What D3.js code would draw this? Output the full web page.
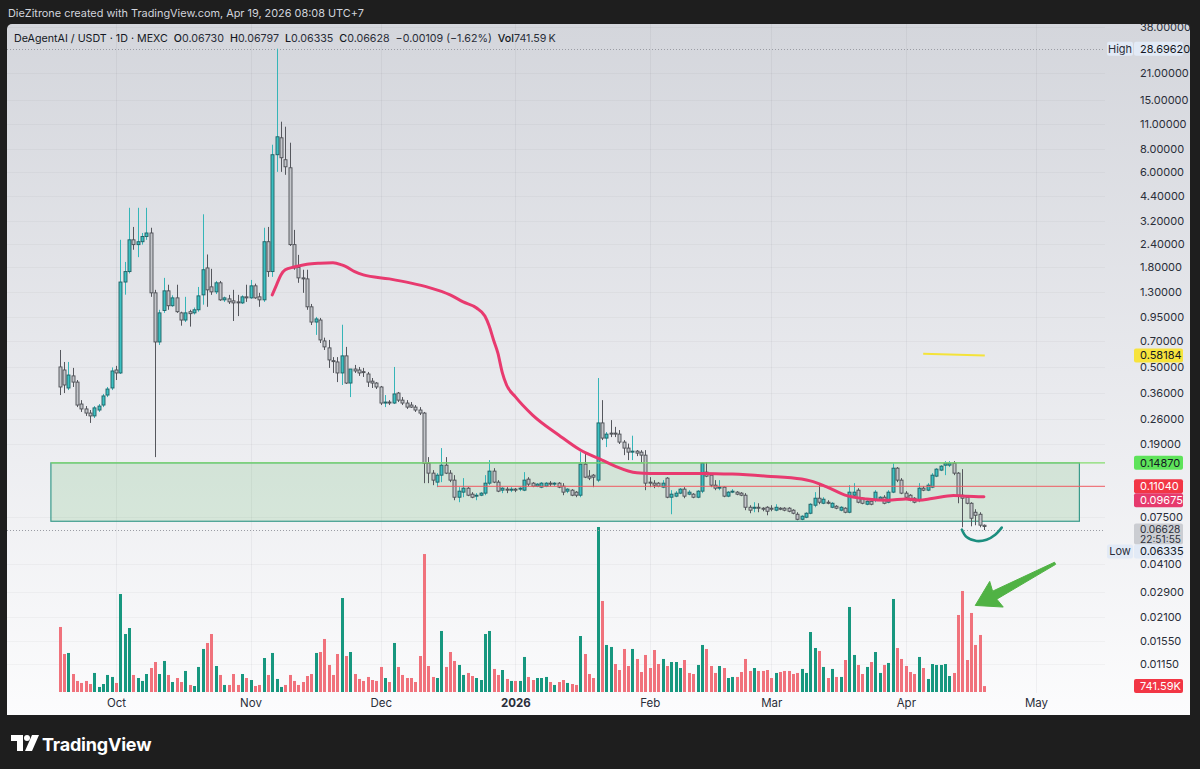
<!DOCTYPE html>
<html><head><meta charset="utf-8">
<script src="https://cdn.jsdelivr.net/npm/d3@7"></script>
<style>
html,body{margin:0;padding:0;background:#1e1e1e;}
svg{display:block;font-family:Inter,Roboto,"Noto Sans",sans-serif;}
</style></head><body>
<svg id="chart" width="1200" height="769"></svg>
<script>
// ---------------- DATA ----------------
const startDay = "2025-09-18"; // first daily candle
const open = [0.503,0.484,0.385,0.449,0.415,0.314,0.295,0.28,0.27,0.291,
0.31,0.352,0.385,0.484,0.466,1.48,1.69,2.53,2.38,2.47,
2.64,2.76,1.29,0.691,1.03,1.323,1.095,1.21,1.0,0.913,
1.015,1.0,1.04,1.257,1.77,1.392,1.306,1.465,1.18,1.195,
1.165,1.15,1.135,1.226,1.21,1.41,1.226,1.18,2.47,1.69,
7.46,9.25,7.0,6.32,2.38,1.78,1.56,1.54,1.08,0.89,
0.913,0.7,0.641,0.545,0.536,0.466,0.579,0.41,0.49,0.484,
0.474,0.46,0.42,0.41,0.39,0.318,0.322,0.318,0.361,0.33,
0.318,0.31,0.302,0.291,0.28,0.148,0.1305,0.1164,0.1272,0.1444,
0.1305,0.1194,0.0961,0.1025,0.1078,0.0999,0.0974,0.0986,0.1012,0.1149,
0.1339,0.1164,0.1051,0.1065,0.1051,0.1065,0.1065,0.1051,0.1209,0.1149,
0.1106,0.1092,0.1106,0.1149,0.1135,0.1149,0.1106,0.1038,0.1051,0.1025,
0.0986,0.1463,0.1256,0.1272,0.1194,0.247,0.2037,0.217,0.217,0.2143,
0.1936,0.1794,0.1704,0.1726,0.1704,0.164,0.1164,0.1149,0.1149,0.1092,
0.1225,0.0961,0.0974,0.1012,0.1065,0.0999,0.0999,0.0961,0.1038,0.1322,
0.1272,0.112,0.1078,0.1092,0.0974,0.1025,0.1025,0.1012,0.0986,0.0846,
0.0836,0.0846,0.0836,0.0846,0.0836,0.0815,0.0836,0.0836,0.0836,0.0815,
0.0774,0.0726,0.0745,0.0784,0.0868,0.0949,0.089,0.0902,0.0846,0.0857,
0.0815,0.0836,0.0794,0.0986,0.1051,0.0949,0.0879,0.0913,0.0925,0.0937,
0.0961,0.0902,0.1025,0.139,0.1194,0.1012,0.0986,0.0949,0.0925,0.1078,
0.1051,0.1092,0.1256,0.1356,0.1444,0.1444,0.148,0.1305,0.0986,0.0961,
0.089,0.0794,0.0774,0.0673];
const high = [0.624,0.536,0.536,0.497,0.426,0.33,0.306,0.291,0.306,0.314,
0.357,0.39,0.5,0.51,2.53,1.91,3.8,2.98,3.8,2.76,
3.8,2.95,1.34,1.04,1.56,1.43,1.25,1.43,1.015,1.226,
1.04,1.07,1.39,3.5,2.1,1.75,1.5,1.5,1.23,1.257,
1.34,1.257,1.25,1.43,1.52,1.45,1.29,2.95,2.98,8.47,
28.6962,11.35,10.65,8.69,2.87,2.09,1.73,1.73,1.12,0.95,
0.938,0.73,0.709,0.57,0.57,0.86,0.649,0.49,0.516,0.503,
0.497,0.472,0.437,0.415,0.395,0.352,0.33,0.503,0.366,0.343,
0.33,0.322,0.31,0.302,0.284,0.16,0.1356,0.1305,0.1794,0.16,
0.1356,0.1272,0.1092,0.1225,0.1092,0.1025,0.1012,0.1025,0.1272,0.154,
0.139,0.1194,0.1092,0.1092,0.1092,0.108,0.1092,0.1322,0.124,0.1164,
0.1149,0.1164,0.1164,0.1179,0.1164,0.1164,0.1149,0.1078,0.1065,0.1038,
0.1704,0.1683,0.1356,0.1289,0.437,0.33,0.22,0.256,0.235,0.2255,
0.1986,0.19,0.21,0.175,0.1748,0.1748,0.124,0.1194,0.1164,0.1194,
0.124,0.1051,0.1038,0.108,0.1092,0.1051,0.1012,0.1051,0.15,0.15,
0.1305,0.1194,0.1194,0.1106,0.1038,0.1065,0.1038,0.1025,0.1012,0.0868,
0.0902,0.089,0.0846,0.0857,0.0868,0.0879,0.0846,0.0846,0.0846,0.0825,
0.0794,0.0764,0.0794,0.089,0.1025,0.1149,0.0961,0.0925,0.0902,0.0868,
0.0857,0.0846,0.112,0.1149,0.1078,0.0961,0.0925,0.0925,0.1051,0.0974,
0.0986,0.1051,0.148,0.141,0.1225,0.1038,0.0999,0.0961,0.1149,0.1106,
0.1149,0.1305,0.139,0.1444,0.152,0.152,0.152,0.1322,0.1373,0.0974,
0.0902,0.0825,0.0794,0.06797];
const low = [0.352,0.361,0.375,0.39,0.302,0.284,0.27,0.247,0.263,0.284,
0.302,0.343,0.375,0.426,0.46,1.26,1.65,2.23,2.03,2.38,
2.53,1.226,0.16,0.665,1.0,1.04,1.08,1.0,0.85,0.89,
0.84,0.98,1.015,1.11,1.08,1.257,1.27,1.165,1.15,1.12,
0.902,0.96,1.12,1.15,1.195,1.195,1.08,1.15,1.58,1.58,
6.0,6.0,5.78,2.34,1.73,1.465,1.29,1.04,0.857,0.756,
0.682,0.624,0.497,0.466,0.415,0.4,0.405,0.343,0.466,0.449,
0.443,0.39,0.385,0.38,0.31,0.302,0.31,0.314,0.322,0.31,
0.295,0.299,0.284,0.273,0.1149,0.1149,0.112,0.1092,0.1164,0.1289,
0.1164,0.0925,0.0902,0.0961,0.0974,0.0949,0.0925,0.0974,0.0986,0.112,
0.1149,0.1025,0.1012,0.1012,0.1025,0.1025,0.1038,0.1038,0.1106,0.1092,
0.1092,0.1078,0.1092,0.1106,0.1106,0.1078,0.0986,0.1012,0.0974,0.0961,
0.0961,0.1225,0.1194,0.1092,0.1164,0.1986,0.1817,0.2063,0.2063,0.189,
0.164,0.154,0.154,0.162,0.15,0.1051,0.1092,0.1078,0.1092,0.1078,
0.0949,0.0774,0.0961,0.0999,0.0949,0.0986,0.0949,0.0949,0.1012,0.124,
0.1092,0.1051,0.1051,0.0961,0.0961,0.1012,0.0986,0.0974,0.0815,0.0784,
0.0794,0.0794,0.0804,0.0764,0.0804,0.0804,0.0815,0.0804,0.0794,0.0774,
0.0717,0.0717,0.0736,0.0774,0.0846,0.0879,0.0879,0.0879,0.0836,0.0825,
0.0804,0.0784,0.0784,0.0974,0.089,0.0879,0.0868,0.0868,0.0902,0.0925,
0.0879,0.089,0.1012,0.1164,0.0999,0.0949,0.0913,0.089,0.0902,0.1038,
0.1038,0.1078,0.124,0.1339,0.1272,0.141,0.1272,0.089,0.0656,0.0879,
0.0664,0.0673,0.0656,0.06335];
const close = [0.39,0.4,0.454,0.415,0.31,0.295,0.28,0.27,0.299,0.306,
0.348,0.38,0.478,0.466,1.48,1.69,2.53,2.38,2.47,2.64,
2.76,1.29,0.691,1.0,1.323,1.095,1.21,1.015,0.913,1.0,
0.99,1.04,1.241,1.73,1.34,1.306,1.465,1.18,1.21,1.15,
1.135,1.14,1.226,1.21,1.41,1.21,1.18,2.47,1.69,7.46,
9.37,7.18,6.4,2.38,1.77,1.56,1.54,1.08,0.89,0.926,
0.709,0.649,0.55,0.54,0.466,0.579,0.41,0.49,0.478,0.466,
0.47,0.415,0.41,0.39,0.318,0.322,0.32,0.357,0.33,0.318,
0.302,0.302,0.291,0.28,0.148,0.1305,0.1194,0.1272,0.1444,0.1305,
0.1194,0.0961,0.1038,0.1078,0.0986,0.0961,0.0986,0.1012,0.1149,0.1339,
0.1164,0.1038,0.1078,0.1051,0.1065,0.1051,0.1078,0.1194,0.1135,0.1106,
0.1135,0.1149,0.1149,0.1135,0.1149,0.1092,0.1025,0.1065,0.0986,0.0986,
0.1463,0.124,0.1225,0.124,0.247,0.2037,0.2143,0.2143,0.2143,0.1936,
0.1794,0.1704,0.1726,0.1683,0.164,0.1149,0.1149,0.112,0.1106,0.1149,
0.0961,0.0999,0.1012,0.1065,0.0974,0.1025,0.0961,0.1038,0.148,0.1256,
0.112,0.1078,0.1092,0.0974,0.1025,0.1038,0.0999,0.0986,0.0846,0.0815,
0.0846,0.0836,0.0825,0.0804,0.0825,0.0846,0.0825,0.0815,0.0804,0.0784,
0.0726,0.0755,0.0784,0.0879,0.0949,0.0902,0.0937,0.089,0.089,0.0836,
0.0846,0.0794,0.1025,0.1025,0.0902,0.089,0.0913,0.0879,0.1025,0.0961,
0.089,0.1025,0.139,0.1194,0.1012,0.0961,0.0925,0.0902,0.1078,0.1051,
0.112,0.1272,0.1373,0.1426,0.148,0.148,0.1305,0.0986,0.0949,0.089,
0.0736,0.0764,0.06737,0.06628];
// volume in millions of tokens
const volume = [8.13,4.75,4.88,2.25,1.38,1.13,1.38,1.0,2.38,0.63,
1.0,2.13,1.88,1.13,12.25,7.25,8.0,2.13,1.75,1.38,
2.25,3.0,3.75,2.25,3.88,2.13,1.25,1.75,1.25,2.63,
0.88,0.75,3.13,5.38,6.13,7.25,3.25,2.13,0.88,0.88,
2.25,0.88,2.25,1.75,1.5,0.75,0.88,4.25,2.13,4.88,
1.63,0.63,0.88,2.13,1.38,0.88,1.25,2.0,2.25,4.88,
5.0,6.63,3.38,2.13,4.75,11.75,4.5,5.0,2.25,1.63,
1.38,1.88,1.5,1.38,3.13,1.75,1.25,6.13,3.13,2.13,
1.75,1.75,1.25,4.5,17.25,3.25,1.88,1.75,7.63,3.13,
5.0,3.88,3.38,2.13,2.38,2.0,1.75,1.5,7.25,7.63,
2.88,2.13,2.75,1.63,1.38,1.38,1.38,4.38,1.88,1.5,
1.75,1.75,1.88,1.25,0.88,1.25,1.5,1.13,1.0,0.88,
7.0,4.75,2.25,1.75,20.63,11.38,5.88,5.63,3.5,2.75,
5.38,3.25,5.38,4.13,2.5,4.63,3.0,5.25,3.5,4.13,
3.25,3.75,3.75,3.0,4.0,2.38,2.25,3.38,5.88,5.38,
3.25,2.38,3.25,3.0,1.75,1.88,1.88,2.5,4.13,2.63,
3.0,2.63,2.63,2.75,1.75,2.38,2.5,2.63,2.63,2.25,
2.38,2.88,2.38,7.5,5.5,5.13,3.13,1.75,2.88,1.88,
1.88,4.0,10.63,4.63,3.38,2.25,3.13,3.75,5.0,2.38,
3.38,3.63,11.63,5.5,4.13,3.25,2.5,2.25,4.38,3.0,
1.63,3.5,3.38,3.38,3.5,2.0,2.38,9.63,12.63,4.0,
9.88,5.88,7.13,0.74159];
// 1 = up-coloured volume bar, 0 = down-coloured
const volumeUp = [0,0,1,0,0,0,0,0,1,1, 1,1,1,0,1,1,1,0,1,1, 1,0,0,1,1,0,1,0,0,1,
0,1,1,1,0,0,1,0,1,0, 0,0,1,0,1,0,0,1,0,1, 1,1,0,0,0,0,0,0,0,1,
0,0,0,0,0,1,0,1,0,0, 0,0,0,0,0,1,0,1,0,0, 0,0,0,0,0,0,0,1,1,0,
0,0,1,1,0,0,1,1,1,1, 0,0,1,0,1,0,1,1,0,0, 1,1,1,0,1,0,0,1,0,0,
1,0,0,0,1,0,1,1,0,0, 0,0,1,0,0,0,0,0,0,1, 0,1,1,1,0,0,0,1,1,0,
0,0,1,0,1,1,0,0,0,0, 1,0,0,0,0,1,0,0,0,0, 0,1,1,1,1,0,1,0,1,0,
1,0,1,1,0,0,1,0,1,1, 0,1,1,0,0,0,0,0,1,0, 1,1,1,1,1,1,0,0,0,0, 0,0,0,0];
// moving-average line: day index and value
const maDay   = [49,50,51,52,54,57,60,63,65,66,68,70,76,81,85,90,93,96,98,99,100,101,102,103,105,109,115,120,125,128,133,136,148,155,163,171,173,177,181,186,191,195,198,201,206,209,213];
const maValue = [1.257,1.428,1.62,1.73,1.79,1.855,1.88,1.89,1.84,1.80,1.69,1.62,1.54,1.46,1.383,1.257,1.15,1.067,0.961,0.847,0.709,0.60,0.47,0.40,0.345,0.273,0.212,0.175,0.154,0.1426,0.131,0.130,0.130,0.1289,0.1256,0.121,0.1183,0.109,0.0986,0.094,0.0925,0.094,0.0925,0.0945,0.0982,0.0974,0.09675];
// axis ticks
const priceTicks = [38,21,15,11,8,6,4.4,3.2,2.4,1.8,1.3,0.95,0.7,0.5,0.36,0.26,0.19,0.075,0.041,0.029,0.021,0.0155,0.0115];
const monthTicks = ["2025-10-01","2025-11-01","2025-12-01","2026-01-01","2026-02-01","2026-03-01","2026-04-01","2026-05-01"];
const monthLabels = ["Oct","Nov","Dec","2026","Feb","Mar","Apr","May"];
// drawings (day index from first candle, price)
const zoneDays = [-2, 235];
const zonePrices = [0.1487, 0.0708];
const greenLineDay = -2, greenLinePrice = 0.1487;
const redLineDay = 87, redLinePrice = 0.1104;
const yellowDays = [199, 213.2], yellowPrices = [0.594, 0.58184];
const arcDays = [207.9, 209.0, 211.3, 213.6, 215.6, 217.1];
const arcPrices = [0.0637, 0.0579, 0.0551, 0.0560, 0.0597, 0.0653];
const arrowDays = [229.4, 211.0];      // tail, tip
const arrowPrices = [0.0415, 0.0243];

// ---------------- SETUP ----------------
const DAY = 864e5;
const START = Date.parse(startDay + "T00:00:00Z");
const dayDate = i => new Date(START + i * DAY);
const n = close.length;
const last = n - 1;

const PL = 7, PR = 1190, PT = 24, PB = 715;  // panel
const AX = 1105;  // price-axis left edge
const TB = 693;   // time-axis top

const x = d3.scaleUtc()
  .domain([new Date(Date.parse(monthTicks[0]+"T00:00:00Z")), new Date(Date.parse(monthTicks[7]+"T00:00:00Z"))])
  .range([116, 1036]);
const y = d3.scaleLog().domain([38, 0.0115]).range([26.6, 664.3]);
const yv = d3.scaleLinear().domain([0, d3.max(volume)]).range([692, 527]);

const svg = d3.select("#chart");
const defs = svg.append("defs");
const g1 = defs.append("linearGradient").attr("id","bg").attr("x1",0).attr("y1",0).attr("x2",0).attr("y2",1);
g1.append("stop").attr("offset","0%").attr("stop-color","#d4d6dc");
g1.append("stop").attr("offset","50%").attr("stop-color","#e8e9ed");
g1.append("stop").attr("offset","100%").attr("stop-color","#fcfcfd");
defs.append("clipPath").attr("id","plotClip").append("rect").attr("x",PL).attr("y",PT).attr("width",AX-PL).attr("height",TB-PT);
defs.append("clipPath").attr("id","panelClip").append("rect").attr("x",PL).attr("y",PT).attr("width",PR-PL).attr("height",PB-PT);

// frame
svg.append("rect").attr("width",1200).attr("height",769).attr("fill","#1e1e1e");
svg.append("rect").attr("x",PL).attr("y",PT).attr("width",PR-PL).attr("height",PB-PT+6).attr("rx",5).attr("fill","url(#bg)");
svg.append("rect").attr("x",0).attr("y",PB).attr("width",1200).attr("height",769-PB).attr("fill","#1e1e1e");

svg.append("text").attr("x",8).attr("y",17).attr("fill","#d1d4dc").attr("font-size",10.9)
  .text("DieZitrone created with TradingView.com, Apr 19, 2026 08:08 UTC+7");

const plot = svg.append("g").attr("clip-path","url(#plotClip)");

// grid
plot.selectAll("line.vg").data(monthTicks).join("line").attr("class","vg")
  .attr("x1",d=>Math.round(x(new Date(d+"T00:00:00Z")))+0.5).attr("x2",d=>Math.round(x(new Date(d+"T00:00:00Z")))+0.5)
  .attr("y1",PT).attr("y2",TB).attr("stroke","rgba(42,46,57,0.05)");
plot.selectAll("line.hg").data(priceTicks).join("line").attr("class","hg")
  .attr("x1",PL).attr("x2",AX).attr("y1",d=>Math.round(y(d))+0.5).attr("y2",d=>Math.round(y(d))+0.5)
  .attr("stroke","rgba(42,46,57,0.04)");

// zone rectangle
const zx0 = x(dayDate(zoneDays[0])), zx1 = x(dayDate(zoneDays[1]));
plot.append("rect").attr("x",zx0).attr("y",y(zonePrices[0])).attr("width",zx1-zx0)
  .attr("height",y(zonePrices[1])-y(zonePrices[0]))
  .attr("fill","rgba(76,175,80,0.16)").attr("stroke","#3a9b8c").attr("stroke-width",1.2);

// volume
const idx = d3.range(n);
const cx = i => Math.round(x(dayDate(i)));
plot.selectAll("rect.vol").data(idx).join("rect").attr("class","vol")
  .attr("x",i=>cx(i)-1).attr("width",3)
  .attr("y",i=>yv(volume[i])).attr("height",i=>yv(0)-yv(volume[i]))
  .attr("fill",i=>volumeUp[i] ? "#17977f" : "#f0727c");

// dotted high/low lines
const hiVal = d3.max(high), loVal = d3.min(low);
[hiVal, loVal].forEach(v=>{
  plot.append("line").attr("x1",PL).attr("x2",AX).attr("y1",Math.round(y(v))+0.5).attr("y2",Math.round(y(v))+0.5)
   .attr("stroke","#9a9ca4").attr("stroke-dasharray","1,2").attr("stroke-width",1);
});

// candles
const up = i => close[i] >= open[i];
plot.selectAll("line.wick").data(idx).join("line").attr("class","wick")
  .attr("x1",i=>cx(i)+0.5).attr("x2",i=>cx(i)+0.5)
  .attr("y1",i=>y(high[i])).attr("y2",i=>y(low[i]))
  .attr("stroke",i=>up(i)?"#35b5b8":"#55575d").attr("stroke-width",1);
plot.selectAll("rect.body").data(idx).join("rect").attr("class","body")
  .attr("x",i=>cx(i)-1).attr("width",3)
  .attr("y",i=>y(Math.max(open[i],close[i])))
  .attr("height",i=>Math.max(1, y(Math.min(open[i],close[i]))-y(Math.max(open[i],close[i]))))
  .attr("fill",i=>up(i)?"#3cc0c2":"#c4c6cb")
  .attr("stroke",i=>up(i)?"#1f5f63":"#4b4d53").attr("stroke-width",0.9);

// horizontal rays
plot.append("line").attr("x1",x(dayDate(greenLineDay))).attr("x2",AX)
  .attr("y1",y(greenLinePrice)).attr("y2",y(greenLinePrice)).attr("stroke","#86dc6f").attr("stroke-width",1.3);
plot.append("line").attr("x1",x(dayDate(redLineDay))).attr("x2",AX)
  .attr("y1",y(redLinePrice)).attr("y2",y(redLinePrice)).attr("stroke","#ef5a62").attr("stroke-width",1);

// moving average
const maLine = d3.line().x((d,k)=>x(dayDate(maDay[k]))).y((d,k)=>y(maValue[k])).curve(d3.curveMonotoneX);
plot.append("path").attr("d",maLine(maDay)).attr("fill","none").attr("stroke","#e83a6f")
  .attr("stroke-width",3).attr("stroke-linecap","round");

// yellow trend line
plot.append("line").attr("x1",x(dayDate(yellowDays[0]))).attr("y1",y(yellowPrices[0]))
  .attr("x2",x(dayDate(yellowDays[1]))).attr("y2",y(yellowPrices[1]))
  .attr("stroke","#f4e33a").attr("stroke-width",2);

// teal arc
const arcLine = d3.line().x((d,k)=>x(dayDate(arcDays[k]))).y((d,k)=>y(arcPrices[k])).curve(d3.curveCatmullRom);
plot.append("path").attr("d",arcLine(arcDays)).attr("fill","none").attr("stroke","#1c8e7f")
  .attr("stroke-width",2.6).attr("stroke-linecap","round");

// green arrow
(function(){
  const tx = x(dayDate(arrowDays[0])), ty = y(arrowPrices[0]);
  const hx = x(dayDate(arrowDays[1])), hy = y(arrowPrices[1]);
  const L = Math.hypot(tx-hx, ty-hy);
  const ux = (tx-hx)/L, uy = (ty-hy)/L;
  const px = -uy, py = ux;
  const headLen = 24, headHalf = 14.5, shaftHead = 4.5, shaftTail = 1.2;
  const bx = hx + ux*headLen, by = hy + uy*headLen;
  const pts = [
    [hx, hy],
    [bx + px*headHalf, by + py*headHalf],
    [bx + px*shaftHead - ux*2, by + py*shaftHead - uy*2],
    [tx + px*shaftTail, ty + py*shaftTail],
    [tx - px*shaftTail, ty - py*shaftTail],
    [bx - px*shaftHead - ux*2, by - py*shaftHead - uy*2],
    [bx - px*headHalf, by - py*headHalf]
  ];
  plot.append("polygon").attr("points",pts.map(p=>p.join(",")).join(" "))
    .attr("fill","#50b244").attr("stroke","#50b244").attr("stroke-width",1).attr("stroke-linejoin","round");
})();

// ---------------- LEGEND ----------------
const f5 = d3.format(".5f");
const chg = close[last]-close[last-1];
const pct = chg/close[last-1]*100;
const minus = s => s.replace("-", "\u2212");
const legend = svg.append("text").attr("x",14).attr("y",42).attr("font-size",10.7).attr("fill","#131722")
  .attr("xml:space","preserve");
legend.append("tspan").text("DeAgentAI / USDT \u00b7 1D \u00b7 MEXC");
[["O",open[last]],["H",high[last]],["L",low[last]],["C",close[last]]].forEach(([k,v])=>{
  legend.append("tspan").attr("dx",6).attr("font-weight",500).text(k);
  legend.append("tspan").attr("fill","#2a2e39").text(f5(v));
});
legend.append("tspan").attr("dx",6).attr("fill","#2a2e39").text(minus(f5(chg)) + " (" + minus(d3.format(".2f")(pct)) + "%)");
legend.append("tspan").attr("dx",6).attr("font-weight",500).text("Vol");
legend.append("tspan").attr("fill","#2a2e39").text(d3.format(".2f")(volume[last]*1000) + "\u2009K");

// ---------------- PRICE AXIS ----------------
const axisG = svg.append("g").attr("clip-path","url(#panelClip)");
const pa = axisG.append("g").attr("transform",`translate(1140,0)`)
  .call(d3.axisRight(y).tickValues(priceTicks).tickFormat(f5).tickSize(0).tickPadding(0));
pa.select(".domain").remove();
pa.selectAll("text").attr("font-size",11).attr("fill","#2a2e39").attr("font-family","Inter,Roboto,sans-serif");

// price labels (value boxes) with simple collision push-down
const lbls = [
  {txt:f5(hiVal), bg:"#e2eaf6", fg:"#131722", tag:"High", yy:y(hiVal)},
  {txt:f5(yellowPrices[1]), bg:"#f7e33c", fg:"#131722", yy:y(yellowPrices[1])},
  {txt:f5(greenLinePrice), bg:"#5ee35a", fg:"#131722", yy:y(greenLinePrice)},
  {txt:f5(redLinePrice), bg:"#f23645", fg:"#ffffff", yy:y(redLinePrice)},
  {txt:f5(maValue[maValue.length-1]), bg:"#e63a6d", fg:"#ffffff", yy:y(maValue[maValue.length-1])},
  {txt:f5(close[last]), sub:"22:51:55", bg:"#cbcdd2", fg:"#2a2e39", yy:y(close[last])},
  {txt:f5(loVal), bg:"#e2eaf6", fg:"#131722", tag:"Low", yy:y(loVal)},
  {txt:d3.format(".2f")(volume[last]*1000)+"K", bg:"#f23645", fg:"#ffffff", yy:yv(volume[last])}
];
lbls.sort((a,b)=>a.yy-b.yy);
let prevBottom = -1e9;
lbls.forEach(l=>{
  const h = l.sub ? 21 : 14;
  const off = l.sub ? 3 : 7;
  let top = l.yy - off;
  if (top < prevBottom) top = prevBottom;
  l.top = top; l.h = h;
  prevBottom = top + h;
});
const lg = axisG.append("g");
lbls.forEach(l=>{
  lg.append("rect").attr("x",1134).attr("y",l.top).attr("width",49).attr("height",l.h).attr("rx",2).attr("fill",l.bg);
  lg.append("text").attr("x",1140).attr("y",l.top+(l.sub?5.5:7)).attr("dy","0.35em").attr("font-size",l.sub?10.2:11).attr("fill",l.fg).text(l.txt);
  if (l.sub) lg.append("text").attr("x",1140).attr("y",l.top+15.5).attr("dy","0.35em").attr("font-size",10.2).attr("fill",l.fg).text(l.sub);
  if (l.tag) {
    lg.append("rect").attr("x",1107).attr("y",l.top).attr("width",26).attr("height",l.h).attr("rx",2).attr("fill",l.bg);
    lg.append("text").attr("x",1120).attr("y",l.top+7).attr("dy","0.35em").attr("text-anchor","middle")
      .attr("font-size",11).attr("fill","#2a2e39").text(l.tag);
  }
});

// ---------------- TIME AXIS ----------------
const ta = svg.append("g").attr("transform",`translate(0,703)`)
  .call(d3.axisBottom(x).tickValues(monthTicks.map(d=>new Date(d+"T00:00:00Z")))
    .tickFormat((d,k)=>monthLabels[k]).tickSize(0).tickPadding(0));
ta.select(".domain").remove();
ta.selectAll("text").attr("dy","0.35em").attr("font-size",11.5).attr("fill","#2a2e39")
  .attr("font-family","Inter,Roboto,sans-serif")
  .attr("font-weight",(d,k)=>monthLabels[k]==="2026"?700:400);

// ---------------- FOOTER LOGO ----------------
const logo = svg.append("g").attr("transform","translate(11,735)").attr("fill","#ffffff");
logo.append("path").attr("d","M0 0H12V16H6V6H0Z");
logo.append("circle").attr("cx",16).attr("cy",3).attr("r",3);
logo.append("path").attr("d","M21 0H28L21 16H14Z");
svg.append("text").attr("x",42).attr("y",750.5).attr("fill","#ffffff").attr("font-size",18)
  .attr("font-weight",700).attr("letter-spacing","-0.2").text("TradingView");
</script>
</body></html>
